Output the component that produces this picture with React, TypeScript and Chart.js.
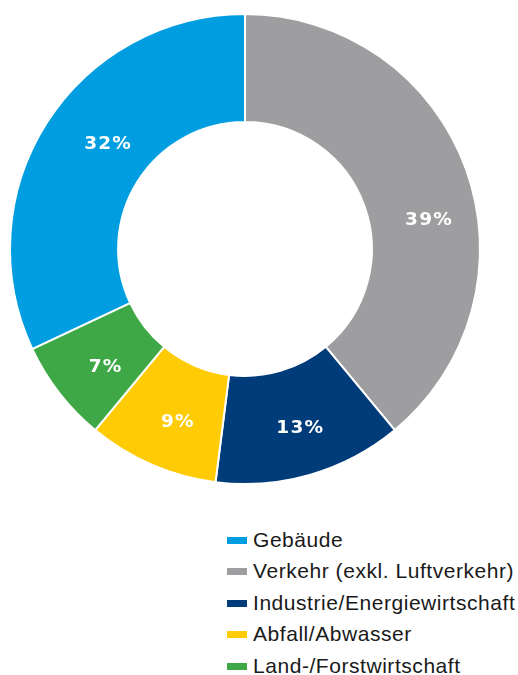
import React, { useEffect, useRef } from "react";
import { Chart, registerables } from "chart.js";

Chart.register(...registerables);

const categories = [
  "Gebäude",
  "Verkehr (exkl. Luftverkehr)",
  "Industrie/Energiewirtschaft",
  "Abfall/Abwasser",
  "Land-/Forstwirtschaft",
];
const shares = [32, 39, 13, 9, 7];
const shareLabels = ["32%", "39%", "13%", "9%", "7%"];
const colors = ["#009EE0", "#9E9EA0", "#003B7A", "#FFCB05", "#3FA846"];

// label placement tweaks (style only): angle shift in degrees, radius shift in px
const labelAngleShift = [5.4, 10.3, -0.9, -1.8, -1.9];
const labelRadiusShift = [-7, 5, 5, 3, 1];

const LS = 1.2;

const labelPlugin = {
  id: "sliceLabels",
  afterDatasetsDraw(chart: any) {
    const ctx = chart.ctx;
    const meta = chart.getDatasetMeta(0);
    ctx.save();
    ctx.fillStyle = "#ffffff";
    ctx.font = "bold 18.5px 'DejaVu Sans', sans-serif";
    (ctx as any).letterSpacing = LS + "px";
    ctx.textBaseline = "alphabetic";
    ctx.textAlign = "left";
    meta.data.forEach((arc: any, i: number) => {
      const p = arc.getProps(["x", "y", "startAngle", "endAngle", "innerRadius", "outerRadius"], true);
      const mid = (p.startAngle + p.endAngle) / 2 + (labelAngleShift[i] * Math.PI) / 180;
      const r = (p.innerRadius + p.outerRadius) / 2 + labelRadiusShift[i];
      const x = p.x + Math.cos(mid) * r;
      const y = p.y + Math.sin(mid) * r;
      const txt = shareLabels[i];
      const w = ctx.measureText(txt).width - LS;
      ctx.fillText(txt, x - w / 2, y + 6.7);
    });
    ctx.restore();
  },
};

export default function App() {
  const ref = useRef<HTMLCanvasElement>(null);
  useEffect(() => {
    if (!ref.current) return;
    const chart = new Chart(ref.current, {
      type: "doughnut",
      data: {
        labels: categories,
        datasets: [
          {
            data: shares,
            backgroundColor: colors,
            borderColor: "#ffffff",
            borderWidth: 2,
            hoverOffset: 0,
          },
        ],
      },
      options: {
        responsive: false,
        animation: false,
        cutout: "54%",
        rotation: -115.2,
        layout: { padding: { left: 9, right: 37, top: 13, bottom: 15 } },
        plugins: {
          legend: { display: false },
          tooltip: { enabled: false },
        },
      },
      plugins: [labelPlugin],
    });
    return () => chart.destroy();
  }, []);

  return (
    <div style={{ position: "absolute", left: 0, top: 0, width: 518, height: 675, background: "#fff" }}>
      <canvas ref={ref} width={518} height={500} style={{ display: "block", width: 518, height: 500 }} />
      <div style={{ position: "absolute", left: 227, top: 524, fontFamily: "'Liberation Sans', Arial, sans-serif" }}>
        {categories.map((c, i) => (
          <div
            key={c}
            style={{
              display: "flex",
              alignItems: "center",
              height: 31.5,
              fontSize: 21,
              letterSpacing: "0.55px",
              color: "#1a1a1a",
              whiteSpace: "nowrap",
            }}
          >
            <span style={{ display: "inline-block", width: 20, height: 7, background: colors[i], marginRight: 6, marginTop: 1 }} />
            <span>{c}</span>
          </div>
        ))}
      </div>
    </div>
  );
}
